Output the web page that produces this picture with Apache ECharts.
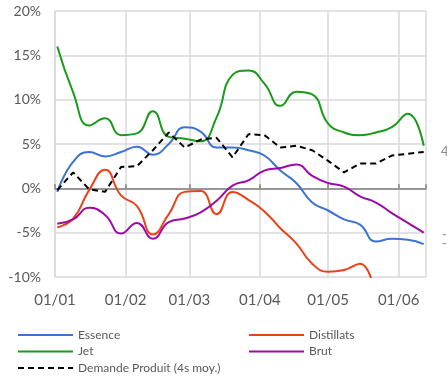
<!DOCTYPE html>
<html>
<head>
<meta charset="utf-8">
<script src="https://cdn.jsdelivr.net/npm/echarts@6/dist/echarts.min.js"></script>
<style>
html,body{margin:0;padding:0;background:#fff;}
#c{width:447px;height:378px;}
</style>
</head>
<body>
<div id="c"></div>
<script>
const weeks = ['2021-01-02','2021-01-09','2021-01-16','2021-01-23','2021-01-30',
  '2021-02-06','2021-02-13','2021-02-20','2021-02-27',
  '2021-03-06','2021-03-13','2021-03-20','2021-03-27',
  '2021-04-03','2021-04-10','2021-04-17','2021-04-24',
  '2021-05-01','2021-05-08','2021-05-15','2021-05-22','2021-05-29',
  '2021-06-05','2021-06-12'];
const essence   = [-0.4, 3.0, 4.1, 3.6, 4.1, 4.7, 3.8, 5.0, 6.9, 6.4, 4.6, 4.6, 4.3, 3.7, 2.0, 0.6, -1.6, -2.5, -3.5, -4.1, -6.0, -5.7, -5.8, -6.3];
const distillats= [-4.4, -3.4, -0.2, 2.1, -0.8, -2.0, -5.2, -2.9, -0.4, -0.3, -2.9, -0.4, -1.3, -2.6, -4.5, -6.2, -8.5, -9.4, -9.2, -8.5, -12.5, null, null, null];
const jet       = [16.0, 10.8, 7.1, 7.9, 6.0, 6.2, 8.7, 5.8, 5.6, 5.3, 8.0, 12.8, 13.3, 11.8, 9.3, 10.9, 10.6, 7.3, 6.3, 6.0, 6.3, 6.9, 8.4, 4.8];
const brut      = [-4.0, -3.5, -2.2, -3.0, -5.1, -3.9, -5.7, -3.8, -3.4, -2.7, -1.4, 0.3, 0.9, 2.0, 2.3, 2.7, 1.4, 0.6, 0.2, -0.9, -1.6, -2.8, -3.9, -5.0];
const demande   = [-0.2, 1.8, -0.1, -0.4, 2.4, 2.5, 4.3, 6.3, 4.6, 5.5, 5.7, 3.5, 6.1, 6.0, 4.6, 4.8, 4.3, 3.1, 1.8, 2.8, 2.8, 3.7, 3.9, 4.1];
const yTicks = {min: -10, max: 20, interval: 5};
const xRange = {min: '2021-01-01', max: '2021-06-13'};

const font = 'Lato, "Open Sans", sans-serif';
const gray = '#595959';
function pairs(vals){ return weeks.map((w,i)=>[w, vals[i]]); }
function line(name, vals, color, dashed){
  return {
    name, type:'line', data: pairs(vals), smooth: dashed ? false : 0.5,
    showSymbol:false, symbol:'none', connectNulls:false, clip:true,
    lineStyle:{color, width: 2, type: dashed ? [6,4] : 'solid'},
    itemStyle:{color}, z: dashed ? 3 : 2
  };
}
const legendBase = {
  orient:'vertical', top:329, padding:0, itemWidth:55, itemHeight:12, itemGap:4.5,
  itemStyle:{color:'rgba(0,0,0,0)', borderColor:'rgba(0,0,0,0)', borderWidth:0, opacity:0},
  textStyle:{color:gray, fontSize:12, fontFamily:font, lineHeight:12}
};
const chart = echarts.init(document.getElementById('c'), null, {renderer:'canvas'});
chart.setOption({
  animation:false,
  grid:{left:55, right:21, top:11, bottom:101},
  xAxis:[{
    type:'time', min:xRange.min, max:xRange.max, splitNumber:6,
    axisLine:{show:false, onZero:false}, axisTick:{show:false},
    axisLabel:{formatter:'{dd}/{MM}', color:gray, fontSize:15, fontFamily:font, margin:16, hideOverlap:false},
    splitLine:{show:true, lineStyle:{color:'#d9d9d9', width:1.5}}
  },{
    type:'time', min:xRange.min, max:xRange.max, splitNumber:6,
    axisLine:{show:true, onZero:true, onZeroAxisIndex:0, lineStyle:{color:'#7f7f7f', width:1.5}},
    axisTick:{show:true, length:4, lineStyle:{color:'#7f7f7f', width:1.5}},
    axisLabel:{show:false}, splitLine:{show:false}
  }],
  yAxis:{
    type:'value', min:yTicks.min, max:yTicks.max, interval:yTicks.interval,
    axisLine:{show:false}, axisTick:{show:false},
    axisLabel:{formatter:'{value}%', color:gray, fontSize:14, fontFamily:font, margin:14},
    splitLine:{show:true, lineStyle:{color:'#d9d9d9', width:1.5}}
  },
  legend:[
    Object.assign({}, legendBase, {left:17, data:['Essence','Jet','Demande Produit (4s moy.)']}),
    Object.assign({}, legendBase, {left:248, data:['Distillats','Brut']})
  ],
  graphic:[
    {type:'text', left:441, top:145, style:{text:'4', fill:'#8c8c8c', font:'13px '+font}},
    {type:'text', left:442, top:228, style:{text:'-', fill:'#8c8c8c', font:'13px '+font}},
    {type:'text', left:442, top:237, style:{text:'-', fill:'#8c8c8c', font:'13px '+font}}
  ],
  series:[
    line('Essence', essence, '#3c72d6'),
    line('Distillats', distillats, '#ea4119'),
    line('Jet', jet, '#1a9a1a'),
    line('Brut', brut, '#9c0ca4'),
    line('Demande Produit (4s moy.)', demande, '#000000', true)
  ]
});
</script>
</body>
</html>
